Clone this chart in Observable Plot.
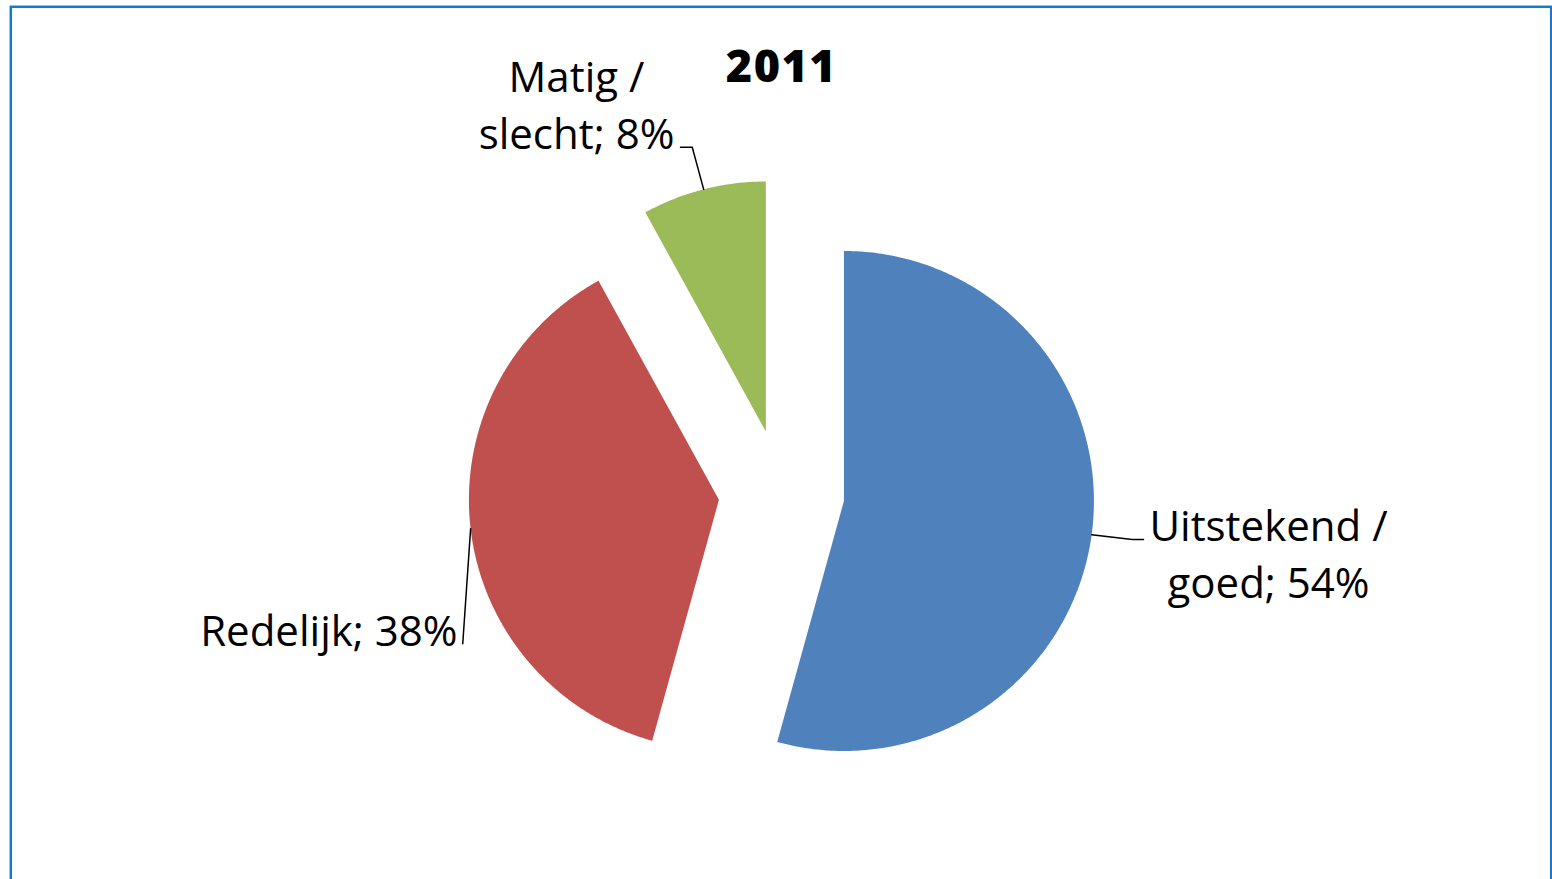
<!DOCTYPE html>
<html><head><meta charset="utf-8">
<script src="https://cdn.jsdelivr.net/npm/d3@7"></script>
<script src="https://cdn.jsdelivr.net/npm/@observablehq/plot@0.6"></script>
<style>
html,body{margin:0;padding:0;background:#fff;}
g[font-weight="800"] text{letter-spacing:1.5px;}
</style></head><body><div id="chart"></div>
<script>
// ---- data ----
const title = "2011";
const categories = ["Uitstekend /\ngoed", "Redelijk", "Matig /\nslecht"];
const values = [54.3, 37.7, 8.0];   // shares (labels show rounded %)
const colors = ["#4F81BD", "#C0504D", "#9BBB59"];

// ---- layout ----
const W = 1552, H = 879;
const cx = 781, cy = 492, R = 250;   // pie centre and radius in pixels
const explode = 63 / R;              // explosion distance in radius units
// label text anchors & leader-line bend points (radius units, relative to pie centre)
const labelLayout = [
  {tx: 1.948, ty: -0.42, anchor: "middle", path: [[1.403, -0.188], [1.448, -0.188]]},
  {tx: -1.296, ty: -0.612, anchor: "end", path: [[-1.275, -0.605]]},
  {tx: -0.82, ty: 1.376, anchor: "middle", path: [[-0.357, 1.381], [-0.404, 1.381]]}
];

const arcs = d3.pie().sort(null).value(d => d)(values);
const slicePts = [], leaderPts = [], labels = [];
arcs.forEach((a, i) => {
  const key = categories[i];
  const mid = (a.startAngle + a.endAngle) / 2;
  const ox = explode * Math.sin(mid), oy = explode * Math.cos(mid);
  slicePts.push({key, x: ox, y: oy});
  const n = Math.max(8, Math.ceil((a.endAngle - a.startAngle) / (Math.PI / 360)));
  for (let k = 0; k <= n; k++) {
    const t = a.startAngle + (a.endAngle - a.startAngle) * k / n;
    slicePts.push({key, x: ox + Math.sin(t), y: oy + Math.cos(t)});
  }
  const L = labelLayout[i];
  leaderPts.push({key, x: ox + Math.sin(mid), y: oy + Math.cos(mid)});
  L.path.forEach(([x, y]) => leaderPts.push({key, x, y}));
  labels.push({key, x: L.tx, y: L.ty, anchor: L.anchor, text: `${categories[i]}; ${Math.round(values[i])}%`});
});

const chart = Plot.plot({
  width: W, height: H,
  margin: 0,
  style: {fontFamily: "'Open Sans', sans-serif", background: "#fff", overflow: "hidden"},
  x: {axis: null, domain: [-cx / R, (W - cx) / R]},
  y: {axis: null, domain: [(cy - H) / R, cy / R]},
  color: {domain: categories, range: colors},
  marks: [
    Plot.line(slicePts, {x: "x", y: "y", z: "key", fill: "key", stroke: "none", curve: "linear-closed"}),
    Plot.line(leaderPts, {x: "x", y: "y", z: "key", stroke: "#000", strokeWidth: 1.5}),
    Plot.text(labels.filter(d => d.anchor === "middle"), {x: "x", y: "y", text: "text", textAnchor: "middle", lineAnchor: "bottom", lineHeight: 1.35, fontSize: 42, fill: "#000"}),
    Plot.text(labels.filter(d => d.anchor === "end"), {x: "x", y: "y", text: "text", textAnchor: "end", lineAnchor: "bottom", lineHeight: 1.35, fontSize: 42, fill: "#000"}),
    Plot.text([title], {x: 0, y: (cy - 81) / R, text: d => d, textAnchor: "middle", lineAnchor: "bottom", fontSize: 45, fontWeight: 800, fill: "#000"}),
    Plot.frame({stroke: "#1778d2", strokeWidth: 2.5, insetLeft: 10.3, insetTop: 6.3, insetRight: 1.3, insetBottom: -20})
  ]
});
document.getElementById("chart").appendChild(chart);
</script></body></html>
